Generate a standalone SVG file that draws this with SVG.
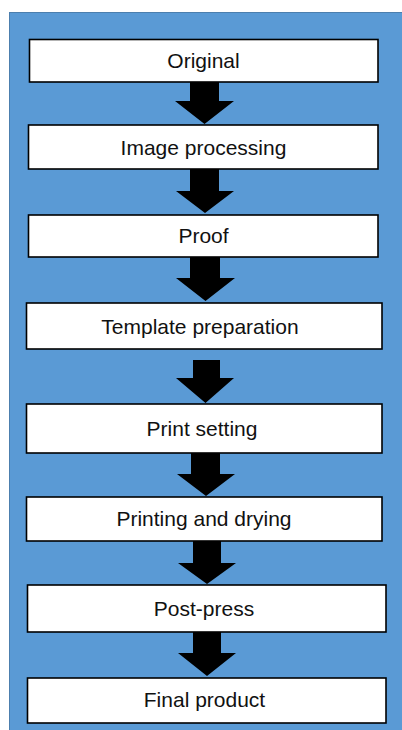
<svg xmlns="http://www.w3.org/2000/svg" width="402" height="730" viewBox="0 0 402 730">
  <style>
    .box { fill: #ffffff; stroke: #000000; stroke-width: 1.6; }
    .label { font-family: "Liberation Sans", Arial, sans-serif; font-size: 21px; fill: #111111; text-anchor: middle; }
    .arrow { fill: #000000; }
  </style>
  <rect x="0" y="0" width="402" height="730" fill="#ffffff"/>
  <!-- panel -->
  <rect x="9.5" y="12.5" width="400" height="730" fill="#5A9AD5" stroke="#4C7FAE" stroke-width="1"/>

  <g id="connectors">
    <polygon class="arrow" points="190,82 219,82 219,101 234,101 204.5,124 175,101 190,101"/>
    <polygon class="arrow" points="190,169 219,169 219,191 234,191 205,213 176,191 190,191"/>
    <polygon class="arrow" points="190,257 220,257 220,278 235,278 205.5,301 176,278 190,278"/>
    <polygon class="arrow" points="193,360 220,360 220,378 234,378 205.5,403 176,378 193,378"/>
    <polygon class="arrow" points="191,453 220,453 220,474 235,474 206,496 177,474 191,474"/>
    <polygon class="arrow" points="193,541 221,541 221,563 236,563 207,584 178,563 193,563"/>
    <polygon class="arrow" points="193,632 221,632 221,653 236,653 207,676 178,653 193,653"/>
  </g>

  <g id="original">
    <rect class="box" x="29.5" y="39.5" width="348.5" height="42.5"/>
    <text class="label" x="203.5" y="68">Original</text>
  </g>
  <g id="image-processing">
    <rect class="box" x="28.5" y="125" width="349.5" height="44"/>
    <text class="label" x="203.5" y="155">Image processing</text>
  </g>
  <g id="proof">
    <rect class="box" x="28.5" y="215" width="349.5" height="42"/>
    <text class="label" x="203.5" y="243">Proof</text>
  </g>
  <g id="template-preparation">
    <rect class="box" x="26.5" y="303" width="355.5" height="46"/>
    <text class="label" x="200" y="333.5">Template preparation</text>
  </g>
  <g id="print-setting">
    <rect class="box" x="26.5" y="404" width="355.5" height="49"/>
    <text class="label" x="202" y="436">Print setting</text>
  </g>
  <g id="printing-and-drying">
    <rect class="box" x="26.5" y="497" width="355.5" height="44"/>
    <text class="label" x="204" y="526">Printing and drying</text>
  </g>
  <g id="post-press">
    <rect class="box" x="27.5" y="585" width="358.5" height="47"/>
    <text class="label" x="204" y="615.5">Post-press</text>
  </g>
  <g id="final-product">
    <rect class="box" x="27.5" y="678" width="358.5" height="45"/>
    <text class="label" x="204.5" y="707">Final product</text>
  </g>
</svg>
